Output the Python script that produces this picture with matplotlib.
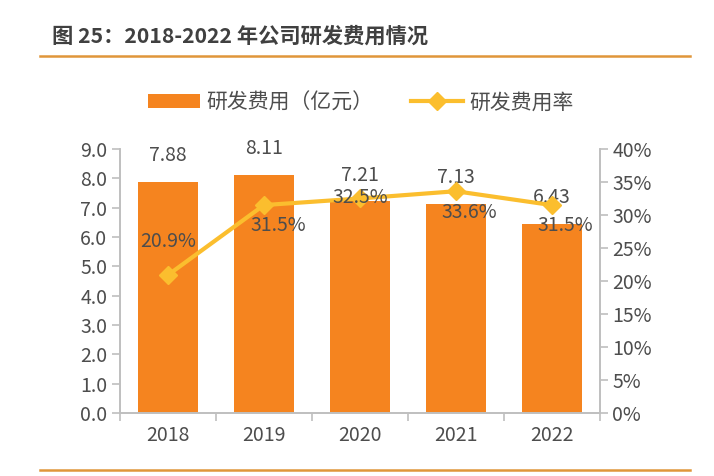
import matplotlib
matplotlib.use("Agg")
import matplotlib.pyplot as plt
from matplotlib.patches import Patch
from matplotlib.lines import Line2D
import numpy as np

plt.rcParams['font.family'] = ['Noto Sans CJK SC', 'DejaVu Sans']

years = ["2018", "2019", "2020", "2021", "2022"]
rd_expense = [7.88, 8.11, 7.21, 7.13, 6.43]
rd_rate = [20.9, 31.5, 32.5, 33.6, 31.5]
left_ticks = [0, 1, 2, 3, 4, 5, 6, 7, 8, 9]
right_ticks = [0, 5, 10, 15, 20, 25, 30, 35, 40]

bar_color = "#F5841F"
line_color = "#FBBE2E"
text_color = "#4D4D4D"
spine_color = "#BFBFBF"
rule_color = "#E0963A"
fs = 14

fig = plt.figure(figsize=(7.14, 4.76), dpi=100)
ax = fig.add_axes([0.168, 0.1324, 0.672, 0.5546])
ax2 = ax.twinx()

x = np.arange(len(years))
ax.bar(x, rd_expense, width=0.625, color=bar_color, zorder=2)
ax.set_xlim(-0.5, len(years) - 0.5)
ax.set_ylim(0, 9)
ax.set_yticks(left_ticks)
ax.set_yticklabels([f"{v:.1f}" for v in left_ticks])
ax.set_xticks(x)
ax.set_xticklabels(years)
ax.set_xticks(np.arange(-0.5, len(years)), minor=True)
ax.tick_params(axis='x', which='major', length=0, pad=9, labelsize=fs, labelcolor=text_color)
ax.tick_params(axis='x', which='minor', length=6, color=spine_color, width=1.2)
ax.tick_params(axis='y', length=6, color=spine_color, width=1.2, labelsize=fs, labelcolor=text_color, pad=3)

ax2.plot(x, rd_rate, color=line_color, lw=3, marker='D', markersize=9, zorder=3)
ax2.set_ylim(0, 40)
ax2.set_yticks(right_ticks)
ax2.set_yticklabels([f"{v}%" for v in right_ticks])
ax2.tick_params(axis='y', length=6, color=spine_color, width=1.2, labelsize=fs, labelcolor=text_color, pad=3)

for a in (ax, ax2):
    a.spines['top'].set_visible(False)
    for s in ('left', 'right', 'bottom'):
        a.spines[s].set_color(spine_color)
        a.spines[s].set_linewidth(1.2)
ax.set_zorder(ax2.get_zorder() - 1)
ax.patch.set_visible(False)

# bar labels
for xi, v in zip(x, rd_expense):
    ax.annotate(f"{v:.2f}", (xi, v), xytext=(0, 19), textcoords='offset points',
                ha='center', va='center', fontsize=fs, color=text_color)

# rate labels
rate_offsets = [(0, 24), (10, -15), (0, 1), (10, -15), (10, -15)]
for xi, v, (dx, dy) in zip(x, rd_rate, rate_offsets):
    ax2.annotate(f"{v:.1f}%", (xi, v), xytext=(dx, dy), textcoords='offset points',
                 ha='center', va='center', fontsize=fs, color=text_color, zorder=5)

# legend
handles = [Patch(facecolor=bar_color, edgecolor='none'),
           Line2D([0], [0], color=line_color, lw=3, marker='D', markersize=9)]
fig.legend(handles, ["研发费用（亿元）", "研发费用率"], loc='center', bbox_to_anchor=(0.505, 0.785),
           ncol=2, frameon=False, fontsize=15, labelcolor=text_color,
           handlelength=2.5, handleheight=0.6, columnspacing=1.8, handletextpad=0.3)

# title and rules
fig.text(0.073, 0.925, "图 25：2018-2022 年公司研发费用情况", fontsize=15.3, fontweight='bold',
         color="#404040", ha='left', va='center')
fig.add_artist(Line2D([0.056, 0.967], [0.882, 0.882], color=rule_color, lw=1.8))
fig.add_artist(Line2D([0.056, 0.967], [0.013, 0.013], color=rule_color, lw=1.8))

fig.savefig("out.png", dpi=100)
